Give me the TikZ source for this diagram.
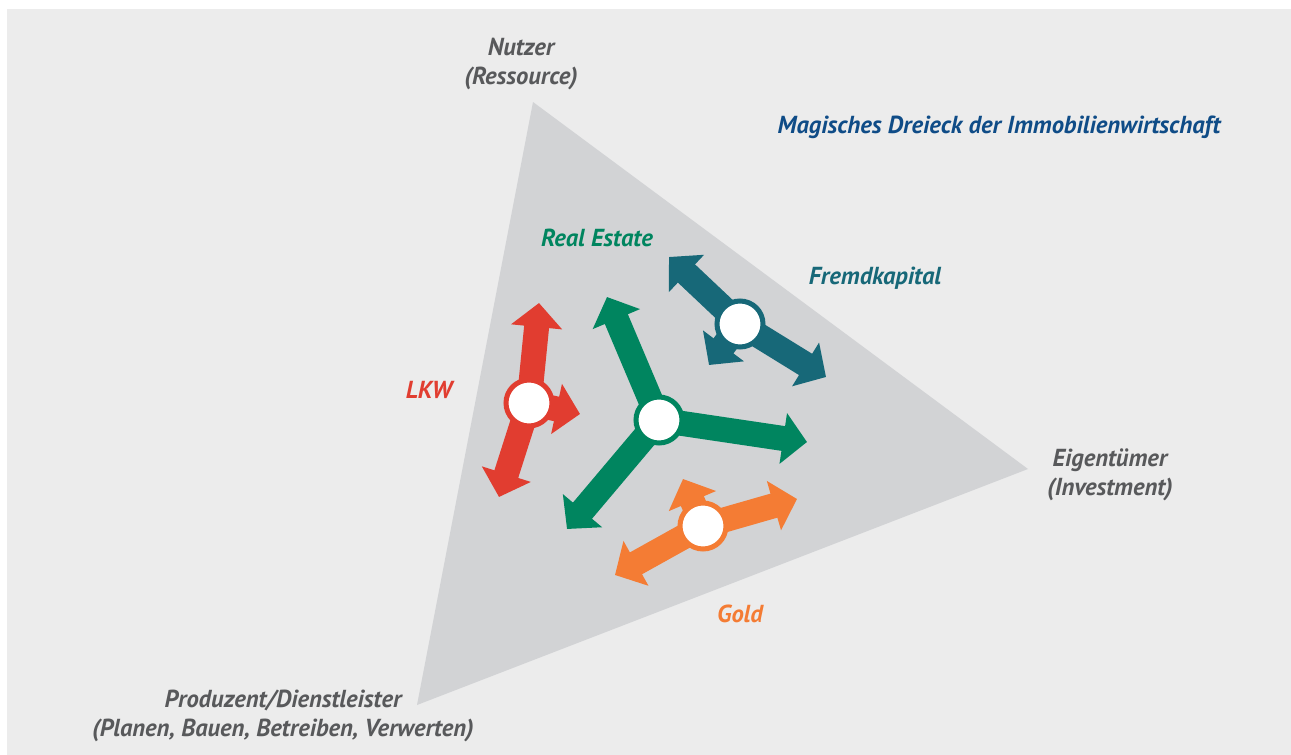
\documentclass[tikz,border=0pt]{standalone}
\usepackage{fontspec}
\setmainfont{PT Sans}
\usetikzlibrary{arrows.meta}

\definecolor{bggray}{HTML}{ECECEC}
\definecolor{trigray}{HTML}{D2D3D5}
\definecolor{txtgray}{HTML}{58595B}
\definecolor{titleblue}{HTML}{0F4C87}
\definecolor{regreen}{HTML}{00855F}
\definecolor{fkteal}{HTML}{176878}
\definecolor{lkwred}{HTML}{E13D30}
\definecolor{goldorange}{HTML}{F47C34}

\tikzset{
  lbl/.style={font=\fontsize{12.3pt}{14.3pt}\selectfont\bfseries\itshape, align=center, inner sep=0pt},
  arr/.style={line width=12.5pt, draw=#1, -{Triangle[length=12pt,width=25pt]}},
  hub/.style={circle, fill=white, draw=#1, line width=2.5pt, minimum size=23pt, inner sep=0pt}
}

\begin{document}
\begin{tikzpicture}[x=0.5pt,y=-0.5pt]
    \useasboundingbox (0,0) rectangle (1291,755);
    \fill[white] (0,0) rectangle (1291,755);
    \fill[bggray] (7,9) rectangle (1291,755);

    % triangle
    \fill[trigray] (533,102) -- (1028,469) -- (417,705) -- cycle;

    % corner labels
    \node[lbl, txtgray] (nutzer) at (521,64) {Nutzer\\(Ressource)};
    \node[lbl, txtgray] (eigentuemer) at (1110,475) {Eigentümer\\(Investment)};
    \node[lbl, txtgray] (produzent) at (283,716) {Produzent/Dienstleister\\(Planen, Bauen, Betreiben, Verwerten)};
    \node[lbl, titleblue, anchor=base] (title) at (999,133) {Magisches Dreieck der Immobilienwirtschaft};

    % hubs and tips
    \coordinate (lkw) at (529,403);
    \coordinate (lkw-up) at (539,303);
    \coordinate (lkw-down) at (499,497);
    \coordinate (lkw-right) at (580,414);

    \coordinate (re) at (659,420);
    \coordinate (re-up) at (607,297);
    \coordinate (re-right) at (807,442);
    \coordinate (re-down) at (567,529);

    \coordinate (fk) at (740,324);
    \coordinate (fk-up) at (669,257);
    \coordinate (fk-right) at (826,377);
    \coordinate (fk-down) at (709,365);

    \coordinate (gold) at (703,526);
    \coordinate (gold-right) at (797,499);
    \coordinate (gold-left) at (615,575);
    \coordinate (gold-up) at (683,479);

    % arrows
    \draw[arr=lkwred] (lkw) -- (lkw-up);
    \draw[arr=lkwred] (lkw) -- (lkw-down);
    \draw[arr=lkwred] (lkw) -- (lkw-right);

    \draw[arr=regreen] (re) -- (re-up);
    \draw[arr=regreen] (re) -- (re-right);
    \draw[arr=regreen] (re) -- (re-down);

    \draw[arr=fkteal] (fk) -- (fk-up);
    \draw[arr=fkteal] (fk) -- (fk-right);
    \draw[arr=fkteal] (fk) -- (fk-down);

    \draw[arr=goldorange] (gold) -- (gold-right);
    \draw[arr=goldorange] (gold) -- (gold-left);
    \draw[arr=goldorange] (gold) -- (gold-up);

    \node[hub=lkwred] (lkw-hub) at (lkw) {};
    \node[hub=regreen] (re-hub) at (re) {};
    \node[hub=fkteal] (fk-hub) at (fk) {};
    \node[hub=goldorange] (gold-hub) at (gold) {};

    % arrow labels
    \node[lbl, lkwred, anchor=base] (lkw-lbl) at (429,398) {LKW};
    \node[lbl, regreen, anchor=base] (re-lbl) at (597,246) {Real Estate};
    \node[lbl, fkteal, anchor=base] (fk-lbl) at (875,284) {Fremdkapital};
    \node[lbl, goldorange, anchor=base] (gold-lbl) at (740,622) {Gold};
\end{tikzpicture}
\end{document}
